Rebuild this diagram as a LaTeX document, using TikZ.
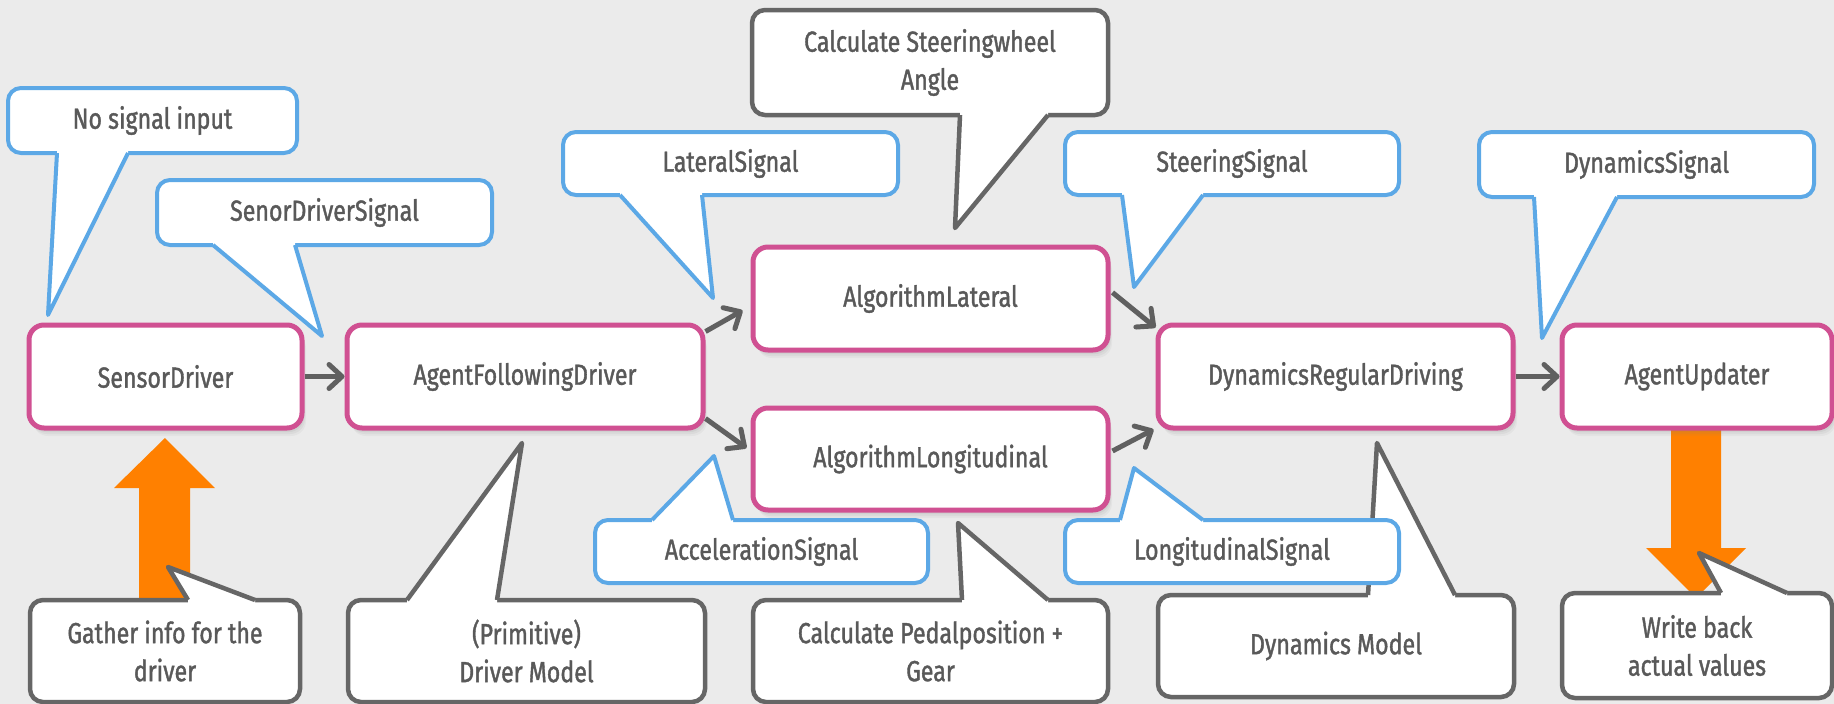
\documentclass[tikz,border=0pt]{standalone}
\usepackage{fontspec}
\setmainfont{Fira Sans}[FakeStretch=0.8, FakeBold=1.3]
\usetikzlibrary{arrows.meta,calc,shadows}

\definecolor{canvas}{HTML}{EBEBEB}
\definecolor{modpink}{HTML}{D05092}
\definecolor{sigblue}{HTML}{5CA8E6}
\definecolor{notegray}{HTML}{666666}
\definecolor{labelgray}{HTML}{595959}
\definecolor{flowgray}{HTML}{606060}
\definecolor{infoorange}{HTML}{FF8000}

\pgfdeclarelayer{bglayer}
\pgfsetlayers{bglayer,main}

\newcommand\labelsize{\fontsize{29}{38}\selectfont}

% rounded note box with a pointed tail:
% #1 outline style, #2/#3 opposite box corners, #4/#5 tail base points,
% #6 tail tip, #7 vertical offset towards the box interior
\newcommand\bubble[7]{%
  \draw[#1, fill=white, rounded corners=13pt] #2 rectangle #3;
  \fill[white] #4 -- #6 -- #5 -- ($#5+(0,#7)$) -- ($#4+(0,#7)$) -- cycle;
  \draw[#1, line join=round] #4 -- #6 -- #5;
}

\tikzset{
  module/.style={draw=modpink, line width=5pt, fill=white, rounded corners=15pt,
    minimum height=103pt, text=labelgray, font=\labelsize, inner sep=0pt,
    drop shadow={opacity=0.10, shadow xshift=1pt, shadow yshift=-2pt},
    drop shadow={opacity=0.10, shadow xshift=2pt, shadow yshift=-4pt},
    drop shadow={opacity=0.09, shadow xshift=3pt, shadow yshift=-6pt},
    drop shadow={opacity=0.07, shadow xshift=4pt, shadow yshift=-8pt}},
  flow/.style={draw=flowgray, line width=5pt, -{Straight Barb[length=13pt,width=24pt,round]}},
  signote/.style={draw=sigblue, line width=4pt},
  graynote/.style={draw=notegray, line width=4.5pt},
  notetext/.style={text=labelgray, font=\labelsize, align=center, inner sep=0pt},
}

\begin{document}
\begin{tikzpicture}[x=1pt,y=-1pt]
\begin{pgfonlayer}{bglayer}
  \fill[canvas] (0,0) rectangle (1834,704);
\end{pgfonlayer}
\useasboundingbox (0,0) rectangle (1834,704);

% model components
\node[module, minimum width=273pt] (sd)   at (165.5,376.5) {SensorDriver};
\node[module, minimum width=356pt] (afd)  at (525,376.5)   {AgentFollowingDriver};
\node[module, minimum width=355pt] (alat) at (930.5,298.5) {AlgorithmLateral};
\node[module, minimum width=355pt, minimum height=102pt] (alon) at (930.5,459) {AlgorithmLongitudinal};
\node[module, minimum width=355pt] (drd)  at (1335.5,376.5) {DynamicsRegularDriving};
\node[module, minimum width=270pt] (au)   at (1697,376.5)  {AgentUpdater};

% signal flow
\draw[flow] (sd.east) -- (afd.west);
\draw[flow] ($(afd.north east)+(0,9)$) -- ($(alat.west)+(-8,12)$);
\draw[flow] ($(afd.south east)+(0,-12)$) -- ($(alon.west)+(-4,-11)$);
\draw[flow] ($(alat.east)+(2,-6)$) -- ($(drd.north west)+(0,5)$);
\draw[flow] ($(alon.east)+(2,-8)$) -- ($(drd.south west)+(-2,-1)$);
\draw[flow] (drd.east) -- (au.west);

% read / write arrows
\begin{pgfonlayer}{bglayer}
  \fill[infoorange] ($(sd.south)+(-0.5,7.5)$) -- ++(50,50) -- ++(-25,0) -- ++(0,115)
    -- ++(-51,0) -- ++(0,-115) -- ++(-25,0) -- cycle;
  \fill[infoorange] ($(au.south)+(-26,-8)$) -- ++(0,125.5) -- ++(-25,0) -- ++(50,50)
    -- ++(50,-50) -- ++(-25,0) -- ++(0,-125.5) -- cycle;
\end{pgfonlayer}

% notes
\bubble{graynote}{(752,10)}{(1108,115)}{(960,115)}{(1048,115)}{(955,228)}{-6}
\node[notetext] (nsteer) at (930,62.5) {Calculate Steeringwheel\\Angle};

\bubble{signote}{(8,88)}{(297,153)}{(57,153)}{(128,153)}{(48,315)}{-6}
\node[notetext] (nnone) at (152.5,120.5) {No signal input};

\bubble{signote}{(157,180)}{(492,245)}{(213,245)}{(295,245)}{(322,336)}{-6}
\node[notetext] (nsds) at (324.5,212.5) {SenorDriverSignal};

\bubble{signote}{(563,132)}{(898,195)}{(620,195)}{(702,195)}{(713,298)}{-6}
\node[notetext] (nlat) at (730.5,163.5) {LateralSignal};

\bubble{signote}{(1065,132)}{(1399,195)}{(1122,195)}{(1203,195)}{(1134,287)}{-6}
\node[notetext] (nsteersig) at (1232,163.5) {SteeringSignal};

\bubble{signote}{(1479,132)}{(1814,197)}{(1534,197)}{(1617,197)}{(1542,338)}{-6}
\node[notetext] (ndyn) at (1646.5,164.5) {DynamicsSignal};

\bubble{graynote}{(30,600)}{(300,702)}{(188,600)}{(255,600)}{(168,567)}{6}
\node[notetext] (ngather) at (165,651) {Gather info for the\\driver};

\bubble{graynote}{(348,600)}{(705,702)}{(407,600)}{(497,600)}{(522,443)}{6}
\node[notetext] (ndriver) at (526.5,651) {(Primitive)\\Driver Model};

\bubble{graynote}{(753,600)}{(1108,702)}{(962,600)}{(1048,600)}{(958,523)}{6}
\node[notetext] (npedal) at (930.5,651) {Calculate Pedalposition +\\Gear};

\bubble{graynote}{(1158,595)}{(1514,697)}{(1368,595)}{(1455,595)}{(1377,443)}{6}
\node[notetext] (nmodel) at (1336,646) {Dynamics Model};

\bubble{signote}{(595,520)}{(928,583)}{(652,520)}{(733,520)}{(714,456)}{6}
\node[notetext] (nacc) at (761.5,551.5) {AccelerationSignal};

\bubble{signote}{(1065,520)}{(1399,583)}{(1120,520)}{(1203,520)}{(1134,468)}{6}
\node[notetext] (nlong) at (1232,551.5) {LongitudinalSignal};

\bubble{graynote}{(1562,593)}{(1832,698)}{(1721,593)}{(1787,593)}{(1699,553)}{6}
\node[notetext] (nwrite) at (1697,645.5) {Write back\\actual values};
\end{tikzpicture}
\end{document}
